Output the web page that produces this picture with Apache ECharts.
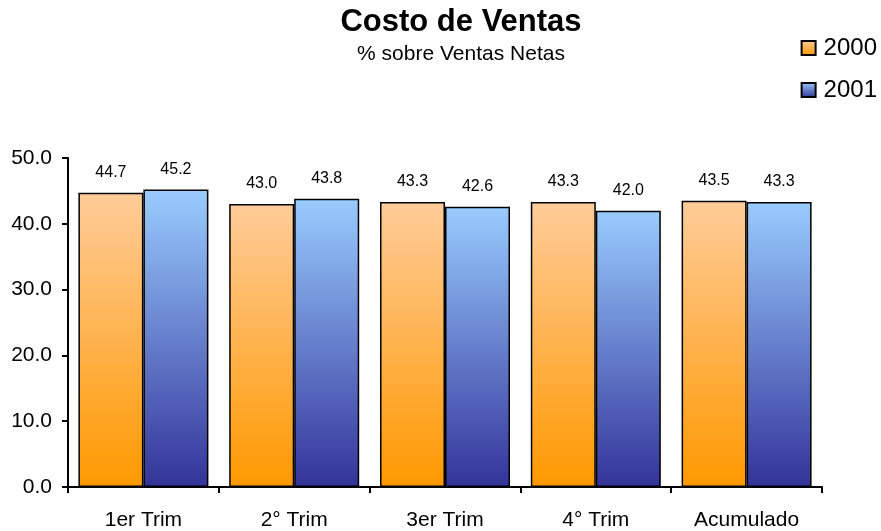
<!DOCTYPE html>
<html>
<head>
<meta charset="utf-8">
<script src="https://cdn.jsdelivr.net/npm/echarts@6/dist/echarts.min.js"></script>
<style>
  html, body { margin: 0; padding: 0; background: #fff; }
  #main { width: 881px; height: 531px; }
</style>
</head>
<body>
<div id="main"></div>
<script>
var categories = ['1er Trim', '2° Trim', '3er Trim', '4° Trim', 'Acumulado'];
var values2000 = [44.7, 43.0, 43.3, 43.3, 43.5];
var values2001 = [45.2, 43.8, 42.6, 42.0, 43.3];
var yTicks = [0, 10, 20, 30, 40, 50];

var FONT = 'Liberation Sans, Arial, sans-serif';

// gradientes tipo Excel
var orangeGrad = new echarts.graphic.LinearGradient(0, 0, 0, 1, [
	{ offset: 0, color: '#ffcc99' },
	{ offset: 1, color: '#ff9900' }
]);
var blueGrad = new echarts.graphic.LinearGradient(0, 0, 0, 1, [
	{ offset: 0, color: '#99ccff' },
	{ offset: 1, color: '#333399' }
]);

var myChart = echarts.init(document.getElementById('main'));

function barLabel() {
	return {
		show: true,
		position: 'top',
		distance: 12,
		color: '#000',
		fontFamily: FONT,
		fontSize: 16,
		formatter: function(p) { return p.value.toFixed(1); }
	};
}

myChart.setOption({
	animation: false,
	backgroundColor: '#fff',
	title: {
		text: 'Costo de Ventas',
		subtext: '% sobre Ventas Netas',
		left: 456,
		textAlign: 'center',
		top: 2,
		itemGap: 6,
		textStyle: { fontFamily: FONT, fontSize: 31, fontWeight: 'bold', color: '#000' },
		subtextStyle: { fontFamily: FONT, fontSize: 21, color: '#000' }
	},
	legend: {
		orient: 'vertical',
		right: -1,
		top: 31,
		itemWidth: 14,
		itemHeight: 14,
		itemGap: 18,
		icon: 'rect',
		textStyle: { fontFamily: FONT, fontSize: 24, color: '#000', padding: [0, 0, 0, 3] },
		data: ['2000', '2001']
	},
	grid: {
		left: 68,
		right: 59,
		top: 158,
		bottom: 43,
		containLabel: false
	},
	xAxis: {
		type: 'category',
		data: categories,
		axisLine: { lineStyle: { color: '#000', width: 2 } },
		axisTick: { show: true, length: 6, lineStyle: { color: '#000', width: 2 } },
		axisLabel: { color: '#000', fontFamily: FONT, fontSize: 21, margin: 23 }
	},
	yAxis: {
		type: 'value',
		min: yTicks[0],
		max: yTicks[yTicks.length - 1],
		interval: 10,
		axisLine: { show: true, lineStyle: { color: '#000', width: 2 } },
		axisTick: { show: true, length: 6, lineStyle: { color: '#000', width: 2 } },
		splitLine: { show: false },
		axisLabel: {
			color: '#000', fontFamily: FONT, fontSize: 21, margin: 16,
			formatter: function(v) { return v.toFixed(1); }
		}
	},
	series: [{
		name: '2000',
		type: 'bar',
		data: values2000,
		barWidth: 65,
		barGap: '0%',
		itemStyle: { color: orangeGrad, borderColor: '#000', borderWidth: 1.5 },
		label: barLabel()
	}, {
		name: '2001',
		type: 'bar',
		data: values2001,
		barWidth: 65,
		itemStyle: { color: blueGrad, borderColor: '#000', borderWidth: 1.5 },
		label: barLabel()
	}]
});
</script>
</body>
</html>
